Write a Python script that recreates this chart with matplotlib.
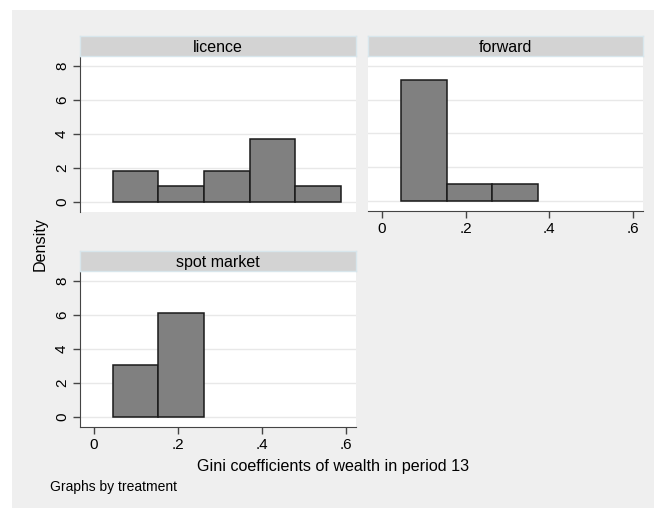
import numpy as np
import matplotlib
matplotlib.use("Agg")
from matplotlib import pyplot as plt
from matplotlib.patches import Rectangle

plt.rcParams['font.family'] = ['Liberation Sans', 'DejaVu Sans']

# histogram data (density), one entry per treatment
groups = ['licence', 'forward', 'spot market']
bin_start = {'licence': 0.045, 'forward': 0.047, 'spot market': 0.045}
bin_width = 0.1085
densities = {
    'licence': [1.84, 0.92, 1.84, 3.69, 0.92],
    'forward': [7.17, 1.02, 1.02],
    'spot market': [3.07, 6.14],
}
xticks = [0, 0.2, 0.4, 0.6]
xtick_labels = ['0', '.2', '.4', '.6']
yticks = [0, 2, 4, 6, 8]

W, H = 654, 508
fig = plt.figure(figsize=(W / 100, H / 100), dpi=100)
fig.patch.set_facecolor('white')
# stata-like grey graph region
fig.patches.append(Rectangle((12 / W, 0), 1, (H - 10) / H, transform=fig.transFigure,
                             facecolor='#efefef', edgecolor='none', zorder=-10))

def px_box(x0, y0, x1, y1):
    return [x0 / W, (H - y1) / H, (x1 - x0) / W, (y1 - y0) / H]

panels = {
    'licence': (80, 57, 356, 212),
    'forward': (368, 57, 643, 211),
    'spot market': (80, 272, 356, 427),
}
show_y = {'licence': True, 'forward': False, 'spot market': True}
show_x = {'licence': False, 'forward': True, 'spot market': True}

axcol = '#444444'
for g in groups:
    x0, y0, x1, y1 = panels[g]
    ax = fig.add_axes(px_box(x0, y0, x1, y1))
    ax.set_facecolor('white')
    d = densities[g]
    lefts = bin_start[g] + bin_width * np.arange(len(d))
    ax.bar(lefts, d, width=bin_width, align='edge', color='#808080',
           edgecolor='#1a1a1a', linewidth=1.1, zorder=3)
    ax.set_xlim(-0.033, 0.624)
    ax.set_ylim(-0.59, 8.53)
    for yv in yticks:
        ax.axhline(yv, color='#e8e8e8', lw=1, zorder=1)
    for s in ax.spines.values():
        s.set_visible(False)
    if show_y[g]:
        ax.spines['left'].set_visible(True)
        ax.spines['left'].set_color(axcol)
        ax.set_yticks(yticks)
        ax.set_yticklabels([str(v) for v in yticks], rotation=90, va='center', fontsize=11)
        ax.tick_params(axis='y', length=5, width=1, color=axcol, pad=3)
    else:
        ax.set_yticks([])
    if show_x[g]:
        ax.spines['bottom'].set_visible(True)
        ax.spines['bottom'].set_color(axcol)
        ax.set_xticks(xticks)
        ax.set_xticklabels(xtick_labels, fontsize=11)
        ax.tick_params(axis='x', length=5, width=1, color=axcol, pad=3)
    else:
        ax.set_xticks([])
    # header strip
    hax = fig.add_axes(px_box(x0, y0 - 21, x1, y0 - 1))
    hax.set_facecolor('#d3d3d3')
    for s in hax.spines.values():
        s.set_color('#d8e6ec')
        s.set_linewidth(1)
    hax.set_xticks([])
    hax.set_yticks([])
    hax.text(0.5, 0.45, g, ha='center', va='center', fontsize=11.5, transform=hax.transAxes)

fig.text(333 / W, 1 - 467 / H, 'Gini coefficients of wealth in period 13', ha='center',
         va='center', fontsize=11.6)
fig.text(40 / W, 1 - 244 / H, 'Density', ha='center', va='center', rotation=90, fontsize=11.6)
fig.text(50 / W, 1 - 487 / H, 'Graphs by treatment', ha='left', va='center', fontsize=10)

fig.savefig('out.png', dpi=100, facecolor=fig.get_facecolor())
